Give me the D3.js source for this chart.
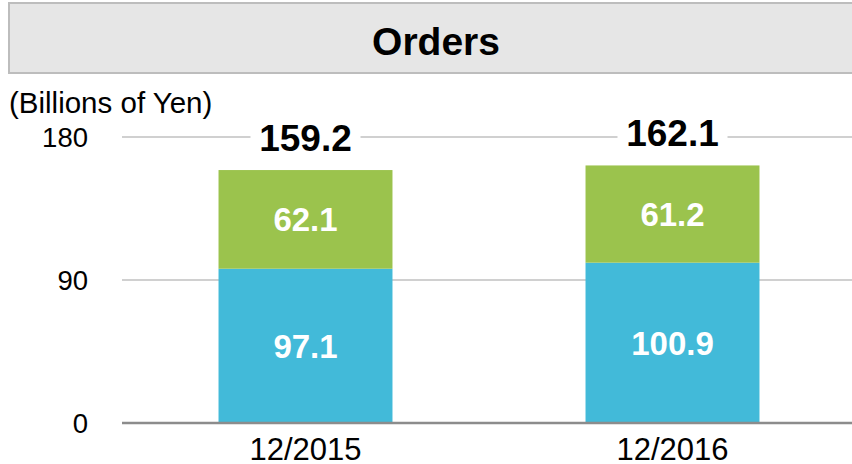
<!DOCTYPE html>
<html>
<head>
<meta charset="utf-8">
<script src="https://cdn.jsdelivr.net/npm/d3@7"></script>
<style>
  body { margin: 0; background: #fff; }
  svg { display: block; font-family: "Liberation Sans", Arial, sans-serif; }
</style>
</head>
<body>
<div id="chart"></div>
<script>
const categories = ["12/2015", "12/2016"];
const lowerValues = [97.1, 100.9];
const upperValues = [62.1, 61.2];
const totals = [159.2, 162.1];
const yTicks = [0, 90, 180];

const width = 852;
const height = 464;
const colors = { lower: "#42bad9", upper: "#9bc34d", grid: "#c0c0c0", axis: "#8c8c8c" };

const svg = d3.select("#chart")
  .append("svg")
  .attr("width", width)
  .attr("height", height);

// Title box
svg.append("rect")
  .attr("x", 9)
  .attr("y", 3)
  .attr("width", 860)
  .attr("height", 70)
  .attr("fill", "#e6e6e6")
  .attr("stroke", "#bdbdbd")
  .attr("stroke-width", 2);

svg.append("text")
  .attr("x", 436)
  .attr("y", 55)
  .attr("text-anchor", "middle")
  .attr("font-size", 39)
  .attr("font-weight", "bold")
  .text("Orders");

svg.append("text")
  .attr("x", 9)
  .attr("y", 113)
  .attr("font-size", 29.5)
  .text("(Billions of Yen)");

const x = d3.scaleBand()
  .domain(categories)
  .range([122, 856])
  .paddingInner(0.526)
  .paddingOuter(0.263);

const y = d3.scaleLinear()
  .domain([0, 180])
  .range([423, 137]);

// Gridlines
svg.append("g")
  .selectAll("line")
  .data(yTicks.filter((d) => d > 0))
  .join("line")
  .attr("x1", 122)
  .attr("x2", width)
  .attr("y1", (d) => y(d))
  .attr("y2", (d) => y(d))
  .attr("stroke", colors.grid)
  .attr("stroke-width", 1.5);

// Y tick labels
svg.append("g")
  .selectAll("text")
  .data(yTicks)
  .join("text")
  .attr("x", 88)
  .attr("y", (d) => y(d))
  .attr("dy", "0.37em")
  .attr("text-anchor", "end")
  .attr("font-size", 27.5)
  .text((d) => d);

const rows = categories.map((c, i) => ({
  cat: c, lower: lowerValues[i], upper: upperValues[i], total: totals[i]
}));

// Lower segment
svg.append("g")
  .selectAll("rect")
  .data(rows)
  .join("rect")
  .attr("x", (d) => x(d.cat))
  .attr("width", x.bandwidth())
  .attr("y", (d) => y(d.lower))
  .attr("height", (d) => y(0) - y(d.lower))
  .attr("fill", colors.lower);

// Upper segment
svg.append("g")
  .selectAll("rect")
  .data(rows)
  .join("rect")
  .attr("x", (d) => x(d.cat))
  .attr("width", x.bandwidth())
  .attr("y", (d) => y(d.lower + d.upper))
  .attr("height", (d) => y(d.lower) - y(d.lower + d.upper))
  .attr("fill", colors.upper);

// Segment labels
const segLabels = svg.append("g")
  .attr("fill", "#fff")
  .attr("font-weight", "bold")
  .attr("font-size", 33)
  .attr("text-anchor", "middle");

rows.forEach((d) => {
  const cx = x(d.cat) + x.bandwidth() / 2;
  segLabels.append("text")
    .attr("x", cx)
    .attr("y", (y(0) + y(d.lower)) / 2)
    .attr("dy", "0.36em")
    .text(d.lower.toFixed(1));
  segLabels.append("text")
    .attr("x", cx)
    .attr("y", (y(d.lower) + y(d.lower + d.upper)) / 2)
    .attr("dy", "0.36em")
    .text(d.upper.toFixed(1));
});

// Total labels with white backing over gridline
const totalG = svg.append("g");
rows.forEach((d) => {
  const cx = x(d.cat) + x.bandwidth() / 2;
  const top = y(d.lower + d.upper);
  totalG.append("rect")
    .attr("x", cx - 55)
    .attr("y", top - 48)
    .attr("width", 110)
    .attr("height", 36)
    .attr("fill", "#fff");
  totalG.append("text")
    .attr("x", cx)
    .attr("y", top - 19)
    .attr("text-anchor", "middle")
    .attr("font-weight", "bold")
    .attr("font-size", 37)
    .text(d.total.toFixed(1));
});

// Baseline axis
svg.append("line")
  .attr("x1", 122)
  .attr("x2", width)
  .attr("y1", y(0))
  .attr("y2", y(0))
  .attr("stroke", colors.axis)
  .attr("stroke-width", 2.5);

// X labels
svg.append("g")
  .call(d3.axisBottom(x).tickSize(0).tickPadding(0))
  .attr("transform", `translate(0,${y(0)})`)
  .call((g) => g.select(".domain").remove())
  .selectAll("text")
  .attr("font-size", 31)
  .attr("font-family", "Liberation Sans, Arial, sans-serif")
  .attr("fill", "#000")
  .attr("dy", "1.2em");
</script>
</body>
</html>
